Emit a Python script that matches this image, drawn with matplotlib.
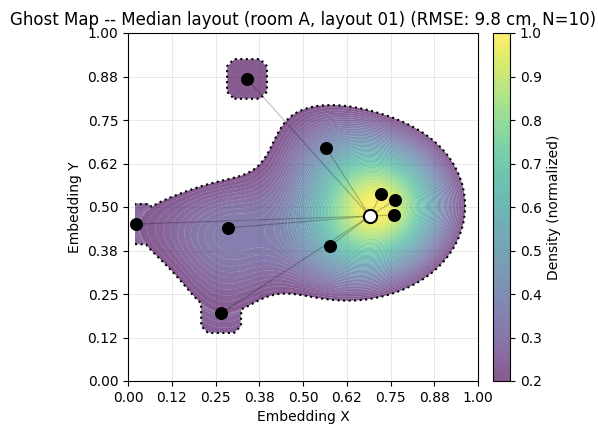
import numpy as np
import matplotlib
matplotlib.use("Agg")
import matplotlib.pyplot as plt

# median layout: object positions in embedding space
obj_x = [0.340, 0.566, 0.723, 0.763, 0.760, 0.286, 0.023, 0.577, 0.266]
obj_y = [0.868, 0.670, 0.537, 0.520, 0.477, 0.440, 0.451, 0.388, 0.195]
obj_w = [0.45, 1.0, 1.0, 1.0, 1.0, 1.2, 0.7, 1.15, 0.65]
med_x, med_y, med_w = 0.691, 0.474, 1.0

ticks = [0.0, 0.125, 0.25, 0.375, 0.5, 0.625, 0.75, 0.875, 1.0]
tick_labels = ["0.00", "0.12", "0.25", "0.38", "0.50", "0.62", "0.75", "0.88", "1.00"]
cbar_ticks = [0.2, 0.3, 0.4, 0.5, 0.6, 0.7, 0.8, 0.9, 1.0]

bw = 0.13
floor = 0.2

# density grid
gx = np.linspace(0.02, 0.98, 241)
X, Y = np.meshgrid(gx, gx)
kx = obj_x + [med_x]
ky = obj_y + [med_y]
kw = obj_w + [med_w]
Z = np.zeros_like(X)
for px, py, w in zip(kx, ky, kw):
    Z += w * np.exp(-((X - px) ** 2 + (Y - py) ** 2) / (2 * bw ** 2))
Z /= Z.max()

# small region kept around every object
half, cut = 0.057, 0.02
near = np.full(X.shape, -np.inf)
for px, py in zip(obj_x, obj_y):
    dx = np.abs(X - px)
    dy = np.abs(Y - py)
    g = np.maximum(np.maximum(dx, dy) / half, (dx + dy) / (2 * half - cut))
    near = np.maximum(near, 1 - g)
in_near = near > 0
Zp = np.where(in_near & (Z < floor), np.maximum(Z + 0.06, floor + 0.003), Z)
G = np.maximum(Z - floor, near)

fig = plt.figure(figsize=(5.98, 4.3), dpi=100)
ax = fig.add_axes([128 / 598, 49 / 430, 350 / 598, 348 / 430])
cax = fig.add_axes([493 / 598, 49 / 430, 17 / 598, 348 / 430])

levels = np.linspace(floor, 1.0, 61)
cf = ax.contourf(X, Y, Zp, levels=levels, cmap="viridis", alpha=0.65, antialiased=True)
ax.contour(X, Y, G, levels=[0], colors="black", linewidths=1.5, linestyles=":")

for px, py in zip(obj_x, obj_y):
    ax.plot([med_x, px], [med_y, py], color="black", alpha=0.25, lw=0.8, zorder=3)
ax.scatter(obj_x, obj_y, s=70, color="black", zorder=4)
ax.scatter([med_x], [med_y], s=90, color="white", edgecolors="black", linewidths=1.5, zorder=5)

ax.set_xlim(0, 1)
ax.set_ylim(0, 1)
ax.set_xticks(ticks)
ax.set_xticklabels(tick_labels)
ax.set_yticks(ticks)
ax.set_yticklabels(tick_labels)
ax.grid(True, color="#cccccc", alpha=0.5, lw=0.6)
ax.set_axisbelow(True)
ax.set_xlabel("Embedding X")
ax.set_ylabel("Embedding Y")
ax.set_title("Ghost Map -- Median layout (room A, layout 01) (RMSE: 9.8 cm, N=10)", fontsize=12)

cb = fig.colorbar(cf, cax=cax)
cb.set_ticks(cbar_ticks)
cb.set_label("Density (normalized)")

fig.savefig("out.png", dpi=100)
